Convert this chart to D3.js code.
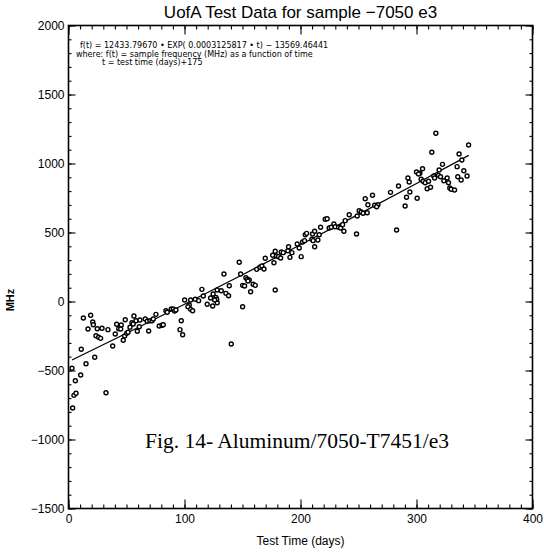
<!DOCTYPE html>
<html><head><meta charset="utf-8">
<script src="https://cdn.jsdelivr.net/npm/d3@7/dist/d3.min.js"></script>
<style>body{margin:0;background:#fff}svg{display:block}</style>
</head><body><svg id="c" width="544" height="552"></svg>
<script>
const title = "UofA Test Data for sample \u22127050 e3";
const xLabel = "Test Time (days)";
const yLabel = "MHz";
const figCaption = "Fig. 14- Aluminum/7050-T7451/e3";
const formulaLines = [
  "f(t) = 12433.79670 \u2022 EXP( 0.0003125817 \u2022 t) \u2212 13569.46441",
  "where: f(t) = sample frequency (MHz) as a function of time",
  "t = test time (days)+175"
];
const xTicks = [0, 100, 200, 300, 400];
const yTicks = [-1500, -1000, -500, 0, 500, 1000, 1500, 2000];

const days = [3.0,5.9,10.5,4.7,6.5,3.6,32.3,15.1,22.6,11.0,12.8,19.1,16.8,20.9,21.4,24.8,28.9,23.7,26.0,27.7,
34.0,38.1,40.3,41.5,45.5,43.3,45.0,47.2,48.4,48.9,50.2,51.3,53.0,54.7,55.8,56.4,58.2,59.3,61.6,61.0,
66.2,67.9,70.2,69.1,72.0,73.1,75.4,78.2,80.6,81.7,84.0,85.1,88.6,90.3,91.5,92.6,97.2,96.1,98.4,100.1,
105.3,104.1,103.0,105.3,107.0,109.3,112.2,115.0,116.2,119.6,124.3,122.5,128.2,127.1,127.7,126.0,128.2,131.7,134.0,135.7,
138.0,138.6,140.3,147.2,148.4,150.1,151.8,152.9,154.1,155.8,154.7,159.2,161.0,157.0,150.1,162.2,165.0,166.7,168.5,169.6,
177.1,178.2,176.0,178.2,179.4,181.1,182.9,183.4,185.1,189.1,189.7,190.9,192.6,197.2,198.9,200.6,204.1,205.3,210.4,212.2,
209.8,210.9,215.0,216.1,212.2,201.8,203.5,217.3,221.3,223.0,224.7,226.5,228.8,229.9,232.8,234.6,237.4,238.5,242.0,250.6,
252.3,254.0,257.5,255.8,258.1,248.3,248.9,236.3,262.1,263.9,266.7,265.6,277.6,284.5,282.8,290.2,291.4,294.3,300.6,292.6,
293.7,305.2,302.9,300.0,301.8,304.0,305.7,307.5,310.4,309.2,312.1,313.2,316.7,319.5,319.0,320.7,314.9,315.6,322.4,323.6,
326.4,327.6,328.7,329.9,332.8,335.0,339.1,340.8,335.6,338.5,343.6,336.7,344.9,124.7];
const mhz = [-484,-574,-533,-680,-665,-772,-661,-451,-404,-346,-120,-100,-199,-149,-168,-197,-194,-248,-259,-267,
-204,-322,-236,-165,-170,-197,-199,-281,-250,-132,-230,-223,-187,-154,-163,-105,-139,-216,-134,-183,
-127,-143,-139,-214,-139,-127,-93,-178,-172,-168,-67,-78,-54,-54,-69,-62,-139,-204,-241,11,
11,-25,-38,-57,-67,16,6,88,40,-20,-33,25,-9,30,16,11,83,78,199,59,
42,114,-308,284,199,117,112,172,161,156,149,125,117,71,-38,233,248,257,236,313,
281,83,335,364,330,325,315,359,354,368,397,320,354,417,388,325,484,494,489,509,
451,441,446,484,397,431,441,538,596,600,533,538,562,542,538,533,509,586,629,658,
649,639,643,745,701,489,620,557,770,697,701,687,791,837,518,692,755,793,748,895,
866,962,929,938,924,886,871,861,871,817,828,1081,1219,953,914,904,909,895,994,875,
895,861,822,813,808,977,1025,948,904,880,909,1069,1134,54];

const fitDays = [3, 50, 100, 150, 200, 250, 300, 345];
const fitMhz = [-424, -230, -20, 194, 411, 631, 855, 1059];

const svg = d3.select("#c");
const L = 68.5, R = 532.5, T = 25.5, B = 508.5;
const x = d3.scaleLinear().domain([0, 400]).range([L, R]);
const y = d3.scaleLinear().domain([-1500, 2000]).range([B, T]);
const font = "'Liberation Sans', Arial, sans-serif";

function style(g){
  g.select(".domain").remove();
  g.selectAll("line").attr("stroke","#000").attr("stroke-width",1.1);
  g.selectAll("text").attr("font-family",font).attr("font-size",12).attr("fill","#000");
}
const minorX = d3.range(0, 401, 10);
const minorY = d3.range(-1500, 2001, 100);

svg.append("g").attr("transform",`translate(0,${B})`)
  .call(d3.axisBottom(x).tickValues(minorX).tickSize(-4).tickFormat("")).call(style);
svg.append("g").attr("transform",`translate(0,${B})`)
  .call(d3.axisBottom(x).tickValues(xTicks).tickSize(-9).tickPadding(6).tickFormat(d3.format("d"))).call(style);
svg.append("g").attr("transform",`translate(0,${T})`)
  .call(d3.axisTop(x).tickValues(minorX).tickSize(-4).tickFormat("")).call(style);
svg.append("g").attr("transform",`translate(0,${T})`)
  .call(d3.axisTop(x).tickValues(xTicks).tickSize(-9).tickFormat("")).call(style);
svg.append("g").attr("transform",`translate(${L},0)`)
  .call(d3.axisLeft(y).tickValues(minorY).tickSize(-3).tickFormat("")).call(style);
svg.append("g").attr("transform",`translate(${L},0)`)
  .call(d3.axisLeft(y).tickValues(yTicks).tickSize(-7).tickPadding(4).tickFormat(d3.format("d"))).call(style);
svg.append("g").attr("transform",`translate(${R},0)`)
  .call(d3.axisRight(y).tickValues(minorY).tickSize(-3).tickFormat("")).call(style);
svg.append("g").attr("transform",`translate(${R},0)`)
  .call(d3.axisRight(y).tickValues(yTicks).tickSize(-7).tickFormat("")).call(style);

svg.append("rect").attr("x",L).attr("y",T).attr("width",R-L).attr("height",B-T)
  .attr("fill","none").attr("stroke","#000").attr("stroke-width",1.6);

svg.append("text").attr("x",(L+R)/2).attr("y",18).attr("text-anchor","middle")
  .attr("font-family",font).attr("font-size",17).text(title);
svg.append("text").attr("x",(L+R)/2).attr("y",545).attr("text-anchor","middle")
  .attr("font-family",font).attr("font-size",12).text(xLabel);
svg.append("text").attr("transform","translate(14,300) rotate(-90)").attr("text-anchor","middle")
  .attr("font-family",font).attr("font-size",11).attr("font-weight","bold").text(yLabel);

const fx = [80, 76, 102], fy = [48, 56.5, 65];
formulaLines.forEach((s,i)=>{
  svg.append("text").attr("x",fx[i]).attr("y",fy[i]).attr("font-family","'DejaVu Sans', sans-serif")
    .attr("font-size",8).attr("fill","#000").text(s);
});

svg.append("path").datum(fitDays.map((d,i)=>[d,fitMhz[i]]))
  .attr("d", d3.line().x(d=>x(d[0])).y(d=>y(d[1])))
  .attr("fill","none").attr("stroke","#000").attr("stroke-width",1.3);

svg.append("g").selectAll("circle").data(days.map((d,i)=>[d,mhz[i]])).join("circle")
  .attr("cx",d=>x(d[0])).attr("cy",d=>y(d[1])).attr("r",2)
  .attr("fill","#fff").attr("stroke","#000").attr("stroke-width",1.4);

svg.append("text").attr("x",297).attr("y",448).attr("text-anchor","middle")
  .attr("font-family","'Liberation Serif','Times New Roman',serif").attr("font-size",21.5)
  .text(figCaption);
</script></body></html>
